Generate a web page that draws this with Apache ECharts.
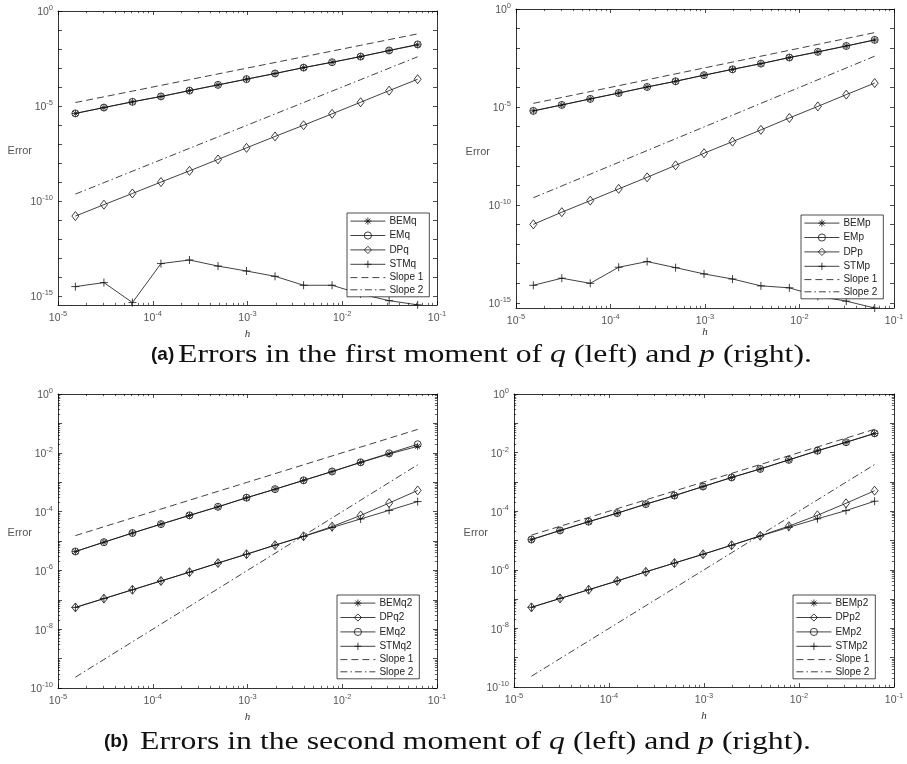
<!DOCTYPE html>
<html><head><meta charset="utf-8">
<script src="https://cdn.jsdelivr.net/npm/echarts@6/dist/echarts.min.js"></script>
<style>html,body{margin:0;padding:0;background:#fff}#c{width:907px;height:764px}</style>
</head><body><div id="c"></div>
<script>
// ---- data ----
const h = [1.52587890625e-5, 3.0517578125e-5, 6.103515625e-5, 1.220703125e-4, 2.44140625e-4, 4.8828125e-4, 9.765625e-4, 1.953125e-3, 3.90625e-3, 7.8125e-3, 1.5625e-2, 3.125e-2, 6.25e-2];
const slope1 = [1.52587890625e-5, 3.0517578125e-5, 6.103515625e-5, 1.220703125e-4, 2.44140625e-4, 4.8828125e-4, 9.765625e-4, 1.953125e-3, 3.90625e-3, 7.8125e-3, 1.5625e-2, 3.125e-2, 6.25e-2];
const slope2 = [2.3283e-10, 9.3132e-10, 3.7253e-9, 1.4901e-8, 5.9605e-8, 2.3842e-7, 9.5367e-7, 3.8147e-6, 1.5259e-5, 6.1035e-5, 2.4414e-4, 9.7656e-4, 3.9063e-3];

// (a) left: first moment of q
const BEMq = [4.07e-6, 8.3e-6, 1.66e-5, 3.16e-5, 6.46e-5, 1.29e-4, 2.57e-4, 5.13e-4, 1.05e-3, 2.0e-3, 3.98e-3, 8.3e-3, 1.66e-2];
const EMq  = [4.1e-6, 8.3e-6, 1.67e-5, 3.2e-5, 6.5e-5, 1.3e-4, 2.6e-4, 5.15e-4, 1.05e-3, 2.02e-3, 4.0e-3, 8.4e-3, 1.75e-2];
const DPq  = [1.62e-11, 6.46e-11, 2.51e-10, 1.0e-9, 3.89e-9, 1.55e-8, 6.31e-8, 2.51e-7, 9.77e-7, 3.89e-6, 1.58e-5, 6.46e-5, 2.57e-4];
const STMq = [3.16e-15, 5.13e-15, 4.57e-16, 5.13e-14, 7.94e-14, 3.80e-14, 2.09e-14, 1.10e-14, 3.72e-15, 3.72e-15, 1.29e-15, 5.75e-16, 3.47e-16];
// (a) right: first moment of p
const BEMp = [6.31e-6, 1.26e-5, 2.57e-5, 5.13e-5, 1.05e-4, 2.04e-4, 4.17e-4, 8.32e-4, 1.62e-3, 3.31e-3, 6.46e-3, 1.29e-2, 2.63e-2];
const EMp  = [6.3e-6, 1.27e-5, 2.58e-5, 5.15e-5, 1.05e-4, 2.05e-4, 4.2e-4, 8.35e-4, 1.63e-3, 3.33e-3, 6.5e-3, 1.3e-2, 2.66e-2];
const DPp  = [1.02e-11, 4.27e-11, 1.66e-10, 6.61e-10, 2.57e-9, 1.05e-8, 4.37e-8, 1.70e-7, 6.76e-7, 2.75e-6, 1.07e-5, 4.27e-5, 1.66e-4];
const STMp = [7.94e-15, 1.82e-14, 1.0e-14, 6.61e-14, 1.29e-13, 6.31e-14, 3.02e-14, 1.66e-14, 7.41e-15, 5.89e-15, 2.19e-15, 1.23e-15, 5.50e-16];
// (b) left: second moment of q
const BEMq2 = [4.37e-6, 9.12e-6, 1.86e-5, 3.72e-5, 7.41e-5, 1.45e-4, 2.95e-4, 5.75e-4, 1.15e-3, 2.29e-3, 4.68e-3, 9.12e-3, 1.66e-2];
const DPq2  = [5.50e-8, 1.10e-7, 2.19e-7, 4.37e-7, 8.71e-7, 1.78e-6, 3.55e-6, 7.24e-6, 1.45e-5, 3.09e-5, 7.41e-5, 1.95e-4, 5.25e-4];
const EMq2  = [4.4e-6, 9.1e-6, 1.87e-5, 3.75e-5, 7.45e-5, 1.46e-4, 2.97e-4, 5.8e-4, 1.16e-3, 2.32e-3, 4.75e-3, 9.6e-3, 1.95e-2];
const STMq2 = [5.50e-8, 1.10e-7, 2.19e-7, 4.37e-7, 8.71e-7, 1.78e-6, 3.55e-6, 7.2e-6, 1.43e-5, 2.88e-5, 5.62e-5, 1.10e-4, 2.19e-4];
// (b) right: second moment of p
const BEMp2 = [1.07e-5, 2.19e-5, 4.37e-5, 8.51e-5, 1.74e-4, 3.39e-4, 6.92e-4, 1.41e-3, 2.75e-3, 5.62e-3, 1.15e-2, 2.24e-2, 4.47e-2];
const DPp2  = [5.25e-8, 1.05e-7, 2.09e-7, 4.17e-7, 8.51e-7, 1.70e-6, 3.39e-6, 6.92e-6, 1.45e-5, 3.09e-5, 7.24e-5, 1.86e-4, 5.01e-4];
const EMp2  = [1.08e-5, 2.2e-5, 4.4e-5, 8.6e-5, 1.75e-4, 3.42e-4, 6.95e-4, 1.42e-3, 2.77e-3, 5.65e-3, 1.16e-2, 2.26e-2, 4.55e-2];
const STMp2 = [5.25e-8, 1.05e-7, 2.09e-7, 4.17e-7, 8.51e-7, 1.70e-6, 3.39e-6, 6.9e-6, 1.42e-5, 2.82e-5, 5.50e-5, 1.05e-4, 2.19e-4];

// tick labels
const xLabels = [1e-5, 1e-4, 1e-3, 1e-2, 1e-1];
const yLabelsA = [1, 1e-5, 1e-10, 1e-15];
const yLabelsB = [1, 1e-2, 1e-4, 1e-6, 1e-8, 1e-10];

// ---- helpers ----
function decades(lo, hi) { const r = []; for (let e = lo; e <= hi; e++) r.push(Math.pow(10, e)); return r; }
function minors(lo, hi) { const r = []; for (let e = lo; e < hi; e++) for (let k = 2; k <= 9; k++) r.push(k * Math.pow(10, e)); return r; }

const AX = '#000', LBL = '#555', LINE = '#111';
const FONT = 'Liberation Sans';
function supLabel(v) { const e = Math.round(Math.log10(v)); return '{m|10}{s|' + e + '}'; }
const labelRich = {
  m: { fontSize: 10.5, lineHeight: 14, verticalAlign: 'bottom', color: LBL, fontFamily: FONT },
  s: { fontSize: 7.5, lineHeight: 14, verticalAlign: 'top', color: LBL, fontFamily: FONT }
};

function axisSet(dim, gi, min, max, major, minor, labels, nameOpt) {
  const pos = dim === 'x' ? ['bottom', 'top'] : ['left', 'right'];
  const base = { type: 'log', logBase: 10, gridIndex: gi, min: min, max: max, splitLine: { show: false }, silent: true, nameMoveOverlap: false };
  const line = { show: true, onZero: false, lineStyle: { color: AX, width: 0.8 } };
  const out = [];
  out.push(Object.assign({}, base, {
    position: pos[0], axisLine: line,
    axisTick: { show: true, inside: true, length: 4, customValues: major, lineStyle: { color: AX, width: 0.7 } },
    axisLabel: { show: true, customValues: labels, margin: 5, formatter: supLabel, rich: labelRich }
  }, nameOpt || {}));
  out.push(Object.assign({}, base, {
    position: pos[1], axisLine: line,
    axisTick: { show: true, inside: true, length: 4, customValues: major, lineStyle: { color: AX, width: 0.7 } },
    axisLabel: { show: false }
  }));
  [0, 1].forEach(function (p) {
    out.push(Object.assign({}, base, {
      position: pos[p], axisLine: { show: false },
      axisTick: { show: minor.length > 0, inside: true, length: 2.2, customValues: minor.length ? minor : major, lineStyle: { color: AX, width: 0.6 } },
      axisLabel: { show: false }
    }));
  });
  return out;
}

function hName(gap) {
  return { name: 'h', nameLocation: 'middle', nameGap: gap,
    nameTextStyle: { fontFamily: 'Liberation Serif', fontStyle: 'italic', fontSize: 11, color: '#333' } };
}

const grids = [
  { left: 58, top: 11, width: 379, height: 294 },
  { left: 516, top: 9, width: 378, height: 299 },
  { left: 58, top: 394, width: 379, height: 294 },
  { left: 514, top: 394, width: 380, height: 293 }
];
const yRanges = [[3.4e-16, 1], [5.5e-16, 1], [1e-10, 1], [1e-10, 1]];
const hGaps = [24, 19, 24, 24];

let xAxes = [], yAxes = [];
for (let g = 0; g < 4; g++) {
  xAxes = xAxes.concat(axisSet('x', g, 1e-5, 1e-1, decades(-5, -1), minors(-5, -1), xLabels, hName(hGaps[g])));
  if (g < 2) yAxes = yAxes.concat(axisSet('y', g, yRanges[g][0], 1, decades(-15, 0), [], yLabelsA, null));
  else yAxes = yAxes.concat(axisSet('y', g, 1e-10, 1, decades(-10, 0), minors(-10, 0), yLabelsB, null));
}

const SYM = {
  star: 'path://M5,0L5,10M0,5L10,5M1.5,1.5L8.5,8.5M1.5,8.5L8.5,1.5',
  circle: 'circle',
  diamond: 'diamond',
  plus: 'path://M5,0L5,10M0,5L10,5'
};
const SIZE = { star: 7, circle: 7, diamond: [7, 9], plus: 8 };

function ser(name, vals, g, sym, dash) {
  return {
    type: 'line', name: name, xAxisIndex: 4 * g, yAxisIndex: 4 * g,
    data: h.map(function (x, i) { return [x, vals[i]]; }),
    lineStyle: { color: LINE, width: 0.8, type: dash || 'solid' },
    itemStyle: { color: 'none', borderColor: LINE, borderWidth: 0.8 },
    symbol: sym ? SYM[sym] : 'none', symbolSize: sym ? SIZE[sym] : 0,
    showSymbol: !!sym, silent: true, z: 2
  };
}
const D1 = [7, 4], D2 = [7, 3, 1.5, 3];

const series = [];
const sets = [
  [['BEMq', BEMq, 'star'], ['EMq', EMq, 'circle'], ['DPq', DPq, 'diamond'], ['STMq', STMq, 'plus']],
  [['BEMp', BEMp, 'star'], ['EMp', EMp, 'circle'], ['DPp', DPp, 'diamond'], ['STMp', STMp, 'plus']],
  [['BEMq2', BEMq2, 'star'], ['DPq2', DPq2, 'diamond'], ['EMq2', EMq2, 'circle'], ['STMq2', STMq2, 'plus']],
  [['BEMp2', BEMp2, 'star'], ['DPp2', DPp2, 'diamond'], ['EMp2', EMp2, 'circle'], ['STMp2', STMp2, 'plus']]
];
const legendPos = [[347, 213], [801, 215], [337, 595], [793, 595]];
const legends = [];
const markerLegendStyle = { color: 'none', borderColor: LINE, borderWidth: 0.8 };
const lineLegendStyle = { color: 'none', borderColor: 'none', borderWidth: 0 };
sets.forEach(function (set, g) {
  set.forEach(function (d) { series.push(ser(d[0], d[1], g, d[2])); });
  series.push(ser('Slope 1', slope1, g, null, D1));
  series.push(ser('Slope 2', slope2, g, null, D2));
  legends.push({
    orient: 'vertical', left: legendPos[g][0], top: legendPos[g][1],
    data: set.map(function (d) { return { name: d[0], itemStyle: markerLegendStyle }; })
      .concat([{ name: 'Slope 1', itemStyle: lineLegendStyle }, { name: 'Slope 2', itemStyle: lineLegendStyle }]),
    itemWidth: 35, itemHeight: 9, itemGap: 2.2,
    padding: [2, 6, 2, 3],
    lineStyle: { width: 0.8, color: LINE },
    borderColor: '#000', borderWidth: 0.7, backgroundColor: '#fff',
    textStyle: { fontFamily: FONT, fontSize: 10, color: '#222', padding: [0, 0, 0, -1] },
    selectedMode: false
  });
});

const serifCap = { fontFamily: 'Liberation Serif', fontSize: 25, fill: '#111' };
function capText(txt, x, y) {
  return { type: 'text', x: x, y: y, scaleX: 1.27, silent: true, style: {
    text: txt, rich: { r: serifCap, i: Object.assign({}, serifCap, { fontStyle: 'italic' }) },
    font: '25px "Liberation Serif"', align: 'left', verticalAlign: 'middle' } };
}
function tagText(txt, x, y) {
  return { type: 'text', x: x, y: y, silent: true, style: {
    text: txt, font: 'bold 19px "Liberation Sans"', fill: '#111', align: 'left', verticalAlign: 'middle' } };
}
function errText(x, y) {
  return { type: 'text', x: x, y: y, silent: true, style: {
    text: 'Error', font: '11px "Liberation Sans"', fill: LBL, align: 'right', verticalAlign: 'middle' } };
}
const graphics = [
  tagText('(a)', 151, 355),
  capText('{r|Errors in the first moment of }{i|q}{r| (left) and }{i|p}{r| (right).}', 178, 355),
  tagText('(b)', 104, 742),
  capText('{r|Errors in the second moment of }{i|q}{r| (left) and }{i|p}{r| (right).}', 140, 742),
  errText(32, 151), errText(490, 152), errText(32, 533), errText(488, 533)
];

const chart = echarts.init(document.getElementById('c'), null, { renderer: 'canvas' });
chart.setOption({
  animation: false,
  backgroundColor: '#fff',
  grid: grids,
  xAxis: xAxes,
  yAxis: yAxes,
  legend: legends,
  series: series,
  graphic: graphics
});
</script>
</body></html>
